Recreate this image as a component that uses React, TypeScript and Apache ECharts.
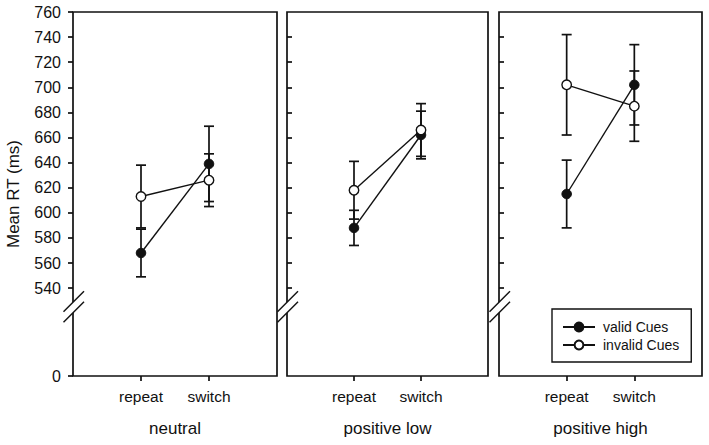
import React, { useEffect, useRef } from 'react';
import * as echarts from 'echarts';

const panels = ['neutral', 'positive low', 'positive high'];
const conditions = ['', 'repeat', 'switch', ''];
const validMeans = [[568, 639], [588, 662], [615, 702]];
const validErr = [[19, 30], [14, 19], [27, 32]];
const invalidMeans = [[613, 626], [618, 666], [702, 685]];
const invalidErr = [[25, 21], [23, 21], [40, 28]];
const yTicks = [0, 540, 560, 580, 600, 620, 640, 660, 680, 700, 720, 740, 760];
const innerTicks = [540, 560, 580, 600, 620, 640, 660, 680, 700, 720, 740];
const seriesNames = ['valid Cues', 'invalid Cues'];

const FONT = 'Liberation Sans, Arial, Helvetica, sans-serif';
const INK = '#111';
const GRID_LEFT = [73, 287, 499];
const GRID_WIDTH = [204, 201, 203];
const GRID_TOP = 12;
const GRID_HEIGHT = 364;
const LW = 1.7;

export default function App() {
  const ref = useRef<HTMLDivElement>(null);
  useEffect(() => {
    if (!ref.current) return;
    const chart = echarts.init(ref.current, undefined, { renderer: 'svg' });

    const grids: any[] = [];
    const xAxes: any[] = [];
    const yAxes: any[] = [];
    const series: any[] = [];

    panels.forEach((name, p) => {
      grids.push({
        left: GRID_LEFT[p],
        top: GRID_TOP,
        width: GRID_WIDTH[p],
        height: GRID_HEIGHT,
        show: true,
        borderColor: INK,
        borderWidth: LW,
        backgroundColor: 'transparent',
        containLabel: false,
      });
      xAxes.push({
        type: 'category',
        gridIndex: p,
        data: conditions,
        boundaryGap: false,
        name,
        nameLocation: 'middle',
        nameGap: 44,
        nameTextStyle: { fontFamily: FONT, fontSize: 17, color: INK },
        axisLine: { show: false },
        axisTick: {
          show: true,
          length: 5,
          interval: (i: number) => i === 1 || i === 2,
          lineStyle: { color: INK, width: LW },
        },
        axisLabel: {
          interval: 0,
          margin: 12,
          fontFamily: FONT,
          fontSize: 15.5,
          color: INK,
        },
        splitLine: { show: false },
      });
      yAxes.push({
        type: 'value',
        gridIndex: p,
        min: 0,
        max: 760,
        breaks: [{ start: 10, end: 530, gap: 50 }],
        breakArea: { show: false },
        name: p === 0 ? 'Mean RT (ms)' : '',
        nameLocation: 'middle',
        nameGap: 51,
        nameTextStyle: { fontFamily: FONT, fontSize: 17, color: INK },
        axisLine: { show: false },
        axisTick: {
          show: true,
          inside: p > 0,
          length: 5,
          customValues: p === 0 ? yTicks : innerTicks,
          lineStyle: { color: INK, width: LW },
        },
        axisLabel: {
          show: p === 0,
          customValues: yTicks,
          margin: 12,
          fontFamily: FONT,
          fontSize: 16,
          color: INK,
        },
        splitLine: { show: false },
      });

      // error bars
      const errRows: number[][] = [];
      [0, 1].forEach((c) => {
        errRows.push([c + 1, validMeans[p][c], validErr[p][c]]);
        errRows.push([c + 1, invalidMeans[p][c], invalidErr[p][c]]);
      });
      series.push({
        type: 'custom',
        xAxisIndex: p,
        yAxisIndex: p,
        z: 1,
        silent: true,
        data: errRows,
        encode: { x: 0, y: 1 },
        renderItem: (params: any, api: any) => {
          const x = api.value(0);
          const m = api.value(1);
          const e = api.value(2);
          const top = api.coord([x, m + e]);
          const bot = api.coord([x, m - e]);
          const hw = 5;
          const style = { stroke: INK, lineWidth: LW };
          return {
            type: 'group',
            children: [
              { type: 'line', shape: { x1: top[0], y1: top[1], x2: bot[0], y2: bot[1] }, style },
              { type: 'line', shape: { x1: top[0] - hw, y1: top[1], x2: top[0] + hw, y2: top[1] }, style },
              { type: 'line', shape: { x1: bot[0] - hw, y1: bot[1], x2: bot[0] + hw, y2: bot[1] }, style },
            ],
          };
        },
      });

      series.push({
        type: 'line',
        name: seriesNames[0],
        xAxisIndex: p,
        yAxisIndex: p,
        z: 3,
        symbol: 'circle',
        symbolSize: 9.5,
        data: [
          ['repeat', validMeans[p][0]],
          ['switch', validMeans[p][1]],
        ],
        lineStyle: { color: INK, width: 1.4 },
        itemStyle: { color: INK, borderColor: INK, borderWidth: 1 },
        emphasis: { disabled: true },
      });
      series.push({
        type: 'line',
        name: seriesNames[1],
        xAxisIndex: p,
        yAxisIndex: p,
        z: 4,
        symbol: 'circle',
        symbolSize: 9.5,
        data: [
          ['repeat', invalidMeans[p][0]],
          ['switch', invalidMeans[p][1]],
        ],
        lineStyle: { color: INK, width: 1.4 },
        itemStyle: { color: '#fff', borderColor: INK, borderWidth: 1.4 },
        emphasis: { disabled: true },
      });
    });

    chart.setOption({
      animation: false,
      backgroundColor: '#fff',
      grid: grids,
      xAxis: xAxes,
      yAxis: yAxes,
      series,
      legend: {
        data: seriesNames,
        orient: 'vertical',
        left: 552,
        top: 309,
        itemWidth: 32,
        itemHeight: 11,
        itemGap: 4,
        padding: [11, 12, 10, 10],
        borderColor: INK,
        borderWidth: 1.4,
        borderRadius: 0,
        backgroundColor: '#fff',
        selectedMode: false,
        textStyle: { fontFamily: FONT, fontSize: 14, color: INK, padding: [0, 0, 0, 3] },
      },
    });

    // axis-break marks
    const graphics: any[] = [];
    panels.forEach((_, p) => {
      const ax = GRID_LEFT[p];
      const y540 = chart.convertToPixel({ yAxisIndex: p } as any, 540) as unknown as number;
      const c1 = y540 + 14;
      const c2 = y540 + 24.5;
      graphics.push({
        type: 'polygon',
        z: 100,
        shape: {
          points: [
            [ax - 4, c1 + 4],
            [ax + 4, c1 - 4],
            [ax + 4, c2 - 4],
            [ax - 4, c2 + 4],
          ],
        },
        style: { fill: '#fff' },
      });
      [c1, c2].forEach((c) => {
        graphics.push({
          type: 'line',
          z: 101,
          shape: { x1: ax - 9.5, y1: c + 9.5, x2: ax + 11, y2: c - 11 },
          style: { stroke: INK, lineWidth: 1.4 },
        });
      });
    });
    chart.setOption({ graphic: graphics });

    return () => chart.dispose();
  }, []);

  return (
    <div
      ref={ref}
      style={{ position: 'absolute', left: 0, top: 0, width: 709, height: 445, background: '#fff' }}
    />
  );
}
